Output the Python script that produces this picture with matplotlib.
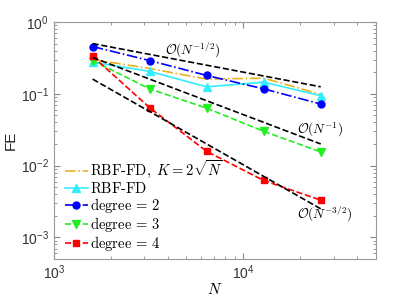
import matplotlib

matplotlib.use("Agg")
import matplotlib.pyplot as plt
import numpy as np

# point counts and field error per method
n_points = [1600, 3200, 6400, 12800, 25600]
fe_rbf_k = [0.30, 0.225, 0.16, 0.165, 0.098]
fe_rbf = [0.275, 0.205, 0.125, 0.145, 0.094]
fe_deg2 = [0.455, 0.29, 0.18, 0.117, 0.072]
fe_deg3 = [0.29, 0.117, 0.063, 0.030, 0.0155]
fe_deg4 = [0.333, 0.064, 0.0158, 0.0062, 0.0033]

# reference slopes: value at the first N and the order
ref_start = [0.50, 0.32, 0.16]
ref_order = [0.5, 1.0, 1.5]
ref_labels = [r"$\mathcal{O}(N^{-1/2})$", r"$\mathcal{O}(N^{-1})$", r"$\mathcal{O}(N^{-3/2})$"]
ref_label_pos = [(5400, 0.40), (25500, 0.0316), (27000, 0.0021)]

plt.rcParams["font.family"] = ["Liberation Sans", "DejaVu Sans"]

fig = plt.figure(figsize=(4.15, 3.05), dpi=100)
ax = fig.add_axes([0.130, 0.151, 0.776, 0.777])

ax.plot(n_points, fe_rbf_k, "-.", color="#EDB120", lw=1.2, label=r"$\text{RBF-FD},\ K=2\sqrt{N}$")
ax.plot(n_points, fe_rbf, "-^", color="#33EEFF", lw=1.2, ms=5.5, label=r"$\text{RBF-FD}$")
ax.plot(n_points, fe_deg2, "-.o", color="#0000FF", lw=1.2, ms=5, label=r"$\text{degree}\,=\,2$")
ax.plot(n_points, fe_deg3, "--v", color="#22EE22", lw=1.2, ms=5.5, label=r"$\text{degree}\,=\,3$")
ax.plot(n_points, fe_deg4, "--s", color="#FF0000", lw=1.2, ms=4, label=r"$\text{degree}\,=\,4$")

n_arr = np.array(n_points, dtype=float)
for start, order, text, pos in zip(ref_start, ref_order, ref_labels, ref_label_pos):
    ax.plot(n_arr, start * (n_arr / n_arr[0]) ** (-order), "--", color="black", lw=1.2)
    ax.text(pos[0], pos[1], text, ha="center", va="center", fontsize=9.5, math_fontfamily="cm")

ax.set_xscale("log")
ax.set_yscale("log")
ax.set_xlim(1e3, 10 ** 4.7)
ax.set_ylim(10 ** -3.3, 1)

for side in ax.spines.values():
    side.set_color("#999999")
    side.set_linewidth(0.8)
ax.tick_params(which="both", direction="in", top=True, right=True, color="#888888", labelsize=10, labelcolor="#333333")
ax.tick_params(which="major", length=4)
ax.tick_params(which="minor", length=2)

ax.set_xlabel(r"$N$", fontsize=11, math_fontfamily="cm", labelpad=0)
ax.set_ylabel("FE", fontsize=11, color="#222222", labelpad=2)

leg = ax.legend(
    loc="lower left",
    bbox_to_anchor=(0.015, 0.0),
    frameon=False,
    fontsize=10.5,
    handlelength=1.6,
    handletextpad=0.15,
    labelspacing=0.0,
    borderaxespad=0.0,
)
for txt in leg.get_texts():
    txt.set_math_fontfamily("cm")

fig.savefig("out.png", dpi=100)
